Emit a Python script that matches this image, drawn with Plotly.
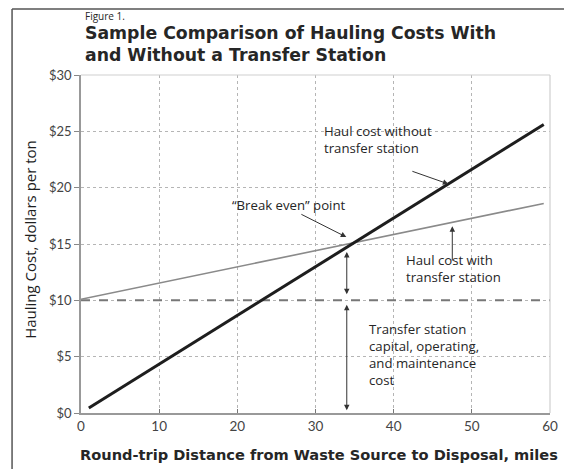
import plotly.graph_objects as go

# ---- data ----
dist_without = [1.0, 59.2]
cost_without = [0.45, 25.6]
dist_with = [0.0, 59.2]
cost_with = [10.1, 18.6]
transfer_cost = 10.0
x_ticks = [0, 10, 20, 30, 40, 50, 60]
y_ticks = [0, 5, 10, 15, 20, 25, 30]
y_tick_labels = ["$0", "$5", "$10", "$15", "$20", "$25", "$30"]

FONT = "Open Sans"
BOLDFONT = "DejaVu Sans"
TICKFONT = "Lato"
TXT = "#262626"

def lin(xs, ys, x):
    return ys[0] + (ys[1] - ys[0]) / (xs[1] - xs[0]) * (x - xs[0])

# break-even intersection
s1 = (cost_without[1] - cost_without[0]) / (dist_without[1] - dist_without[0])
s2 = (cost_with[1] - cost_with[0]) / (dist_with[1] - dist_with[0])
be_x = (cost_with[0] - cost_without[0] + s1 * dist_without[0]) / (s1 - s2)
be_y = lin(dist_with, cost_with, be_x)

fig = go.Figure()
fig.add_trace(go.Scatter(x=[0, 60], y=[transfer_cost, transfer_cost], mode="lines",
                         line=dict(color="#777", width=2, dash="dash"), hoverinfo="skip"))
fig.add_trace(go.Scatter(x=dist_with, y=cost_with, mode="lines",
                         line=dict(color="#8a8a8a", width=1.6), hoverinfo="skip"))
fig.add_trace(go.Scatter(x=dist_without, y=cost_without, mode="lines",
                         line=dict(color="#1e1e1e", width=3), hoverinfo="skip"))

ann = []
afont = dict(family=FONT, size=13.2, color=TXT)
# text labels
ann.append(dict(x=30.8, y=24.3, xref="x", yref="y", text="Haul cost without<br>transfer station",
                showarrow=False, xanchor="left", yanchor="middle", align="left", font=afont))
ann.append(dict(x=19.1, y=18.5, xref="x", yref="y", text="\u201cBreak even\u201d point",
                showarrow=False, xanchor="left", yanchor="middle", align="left", font=afont))
ann.append(dict(x=41.3, y=12.8, xref="x", yref="y", text="Haul cost with<br>transfer station",
                showarrow=False, xanchor="left", yanchor="middle", align="left", font=afont))
ann.append(dict(x=36.6, y=5.2, xref="x", yref="y",
                text="Transfer station<br>capital, operating,<br>and maintenance<br>cost",
                showarrow=False, xanchor="left", yanchor="middle", align="left", font=afont))

# pointer arrows
def arrow(x, y, ax, ay, side="end"):
    return dict(x=x, y=y, ax=ax, ay=ay, xref="x", yref="y", axref="x", ayref="y",
                text="", showarrow=True, arrowhead=2, arrowsize=1.1, arrowwidth=1,
                arrowcolor="#333", standoff=0, startstandoff=0, arrowside=side)

ann.append(arrow(47.0, lin(dist_without, cost_without, 47.0), 42.2, 21.5))
ann.append(arrow(be_x - 1.0, be_y + 0.5, 28.0, 17.7))
ann.append(arrow(47.5, lin(dist_with, cost_with, 47.5) - 0.35, 47.5, 13.4))
ann.append(arrow(34.0, 14.3, 34.0, 10.4, "end+start"))
ann.append(arrow(34.0, 9.6, 34.0, 0.1, "end+start"))

# titles
ann.append(dict(x=0.004, y=1.175, xref="paper", yref="paper", text="Figure 1.", showarrow=False,
                xanchor="left", yanchor="middle", font=dict(family=FONT, size=10, color=TXT)))
ann.append(dict(x=0.004, y=1.092, xref="paper", yref="paper",
                text="<b>Sample Comparison of Hauling Costs With<br>and Without a Transfer Station</b>",
                showarrow=False, xanchor="left", yanchor="middle", align="left",
                font=dict(family=BOLDFONT, size=17.3, color=TXT)))
ann.append(dict(x=0.508, y=-0.124, xref="paper", yref="paper",
                text="<b>Round-trip Distance from Waste Source to Disposal, miles</b>", showarrow=False,
                xanchor="center", yanchor="middle", font=dict(family=BOLDFONT, size=14.6, color=TXT)))
ann.append(dict(x=-0.109, y=0.515, xref="paper", yref="paper", textangle=-90,
                text="Hauling Cost, dollars per ton", showarrow=False,
                xanchor="center", yanchor="middle", font=dict(family=FONT, size=15, color="#1e1e1e")))

shapes = [
    # figure frame
    dict(type="line", xref="paper", yref="paper", x0=-0.147, x1=-0.147, y0=-0.3, y1=1.195,
         line=dict(color="#555", width=1.5)),
    dict(type="line", xref="paper", yref="paper", x0=-0.147, x1=1.1, y0=1.195, y1=1.195,
         line=dict(color="#555", width=1.5)),
    # top / right plot border
    dict(type="line", xref="paper", yref="paper", x0=0, x1=1, y0=1, y1=1,
         line=dict(color="#cfcfcf", width=1)),
    dict(type="line", xref="paper", yref="paper", x0=1, x1=1, y0=0, y1=1,
         line=dict(color="#cfcfcf", width=1.2)),
]

fig.update_layout(
    width=564, height=461,
    margin=dict(l=73, r=22, t=67, b=56),
    paper_bgcolor="white", plot_bgcolor="white",
    showlegend=False,
    annotations=ann, shapes=shapes,
    font=dict(family=TICKFONT, size=12, color="#444"),
)
fig.update_xaxes(range=[0, 60], tickvals=x_ticks, showgrid=True, gridcolor="#b5b5b5",
                 griddash="dot", gridwidth=1, showline=True, linecolor="#999", linewidth=1.5,
                 ticks="inside", ticklen=4, tickcolor="#777", zeroline=False,
                 tickfont=dict(family=TICKFONT, size=13.5, color="#444"))
fig.update_yaxes(range=[0, 30], tickvals=y_ticks, ticktext=y_tick_labels, showgrid=True,
                 gridcolor="#b5b5b5", griddash="dot", gridwidth=1, showline=True,
                 linecolor="#999", linewidth=1.5, ticks="outside", ticklen=5, tickcolor="#888",
                 zeroline=False, tickfont=dict(family=TICKFONT, size=13, color="#444"))

fig.write_html("out.html")
